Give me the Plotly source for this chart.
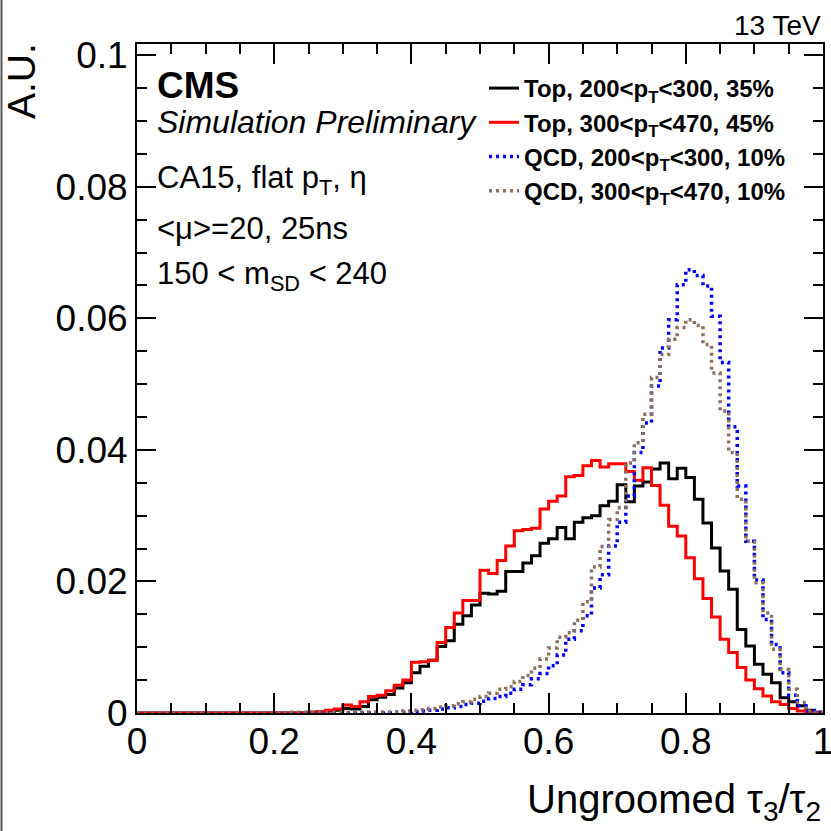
import numpy as np
import plotly.graph_objects as go

# ---------------- data (80 bins, 0..1) ----------------
top_200_300 = [0]*20 + [
    0.0001, 0.00015, 0.0003, 0.0004, 0.0007, 0.0006, 0.001, 0.002, 0.0024, 0.0028,
    0.0038, 0.0046, 0.0061, 0.0071, 0.008, 0.0101, 0.011, 0.0135, 0.0148, 0.0164,
    0.0182, 0.0181, 0.0185, 0.0215, 0.0215, 0.0228, 0.0239, 0.0258, 0.0265, 0.0282,
    0.0265, 0.029, 0.0297, 0.03, 0.0315, 0.0322, 0.0347, 0.0321, 0.0345, 0.0351,
    0.0371, 0.038, 0.0356, 0.0372, 0.0358, 0.0325, 0.0289, 0.0251, 0.0216, 0.0188,
    0.0127, 0.0102, 0.0074, 0.0059, 0.0046, 0.0023, 0.0017, 0.0011, 0.0004, 0.0001]

top_300_470 = [0]*20 + [
    0.0001, 0.0002, 0.0004, 0.0006, 0.0012, 0.001, 0.0017, 0.0025, 0.0027, 0.0034,
    0.0042, 0.005, 0.0077, 0.0078, 0.008, 0.0107, 0.013, 0.0152, 0.0171, 0.0171,
    0.0217, 0.0212, 0.0232, 0.0254, 0.0277, 0.0279, 0.0281, 0.031, 0.0322, 0.033,
    0.0359, 0.0361, 0.0376, 0.0384, 0.0374, 0.0379, 0.0379, 0.0367, 0.0354, 0.0373,
    0.0346, 0.0316, 0.0284, 0.0269, 0.0236, 0.0204, 0.0174, 0.0146, 0.0112, 0.0092,
    0.0069, 0.005, 0.0037, 0.0026, 0.0017, 0.0013, 0.0007, 0.0003, 0.0001, 0.00005]

qcd_200_300 = [0]*30 + [
    0.0001, 0.0001, 0.0002, 0.0003, 0.0004, 0.0006, 0.0008, 0.001, 0.0013, 0.0015,
    0.0018, 0.0022, 0.0025, 0.003, 0.0036, 0.0043, 0.0052, 0.006, 0.0072, 0.0088,
    0.0112, 0.0125, 0.0148, 0.019, 0.021, 0.0254, 0.029, 0.033, 0.0396, 0.0441,
    0.0497, 0.0555, 0.0598, 0.0651, 0.0674, 0.0665, 0.0649, 0.0603, 0.0533, 0.0435,
    0.0345, 0.0261, 0.0202, 0.0142, 0.0104, 0.0061, 0.0027, 0.0011, 0.0003, 0.0001]

qcd_300_470 = [0]*18 + [
    0.0001, 0.0001, 0.0001, 0.0001, 0.0001, 0.0001, 0.0001, 0.00015, 0.00015, 0.00015,
    0.00015, 0.00015, 0.00015, 0.0003, 0.0004, 0.0005, 0.0007, 0.0009, 0.0011, 0.0014,
    0.0017, 0.0021, 0.0025, 0.003, 0.0036, 0.004, 0.0048, 0.0057, 0.0068, 0.0082,
    0.0099, 0.0115, 0.0122, 0.0141, 0.0169, 0.0222, 0.0253, 0.0294, 0.0312, 0.038,
    0.0411, 0.0454, 0.051, 0.0545, 0.0568, 0.0586, 0.0598, 0.0589, 0.056, 0.0517,
    0.0459, 0.0396, 0.0325, 0.0261, 0.0198, 0.0152, 0.0097, 0.0066, 0.0036, 0.0016,
    0.0003, 0.0001]

series_names = [
    "Top, 200&lt;p<sub>T</sub>&lt;300, 35%",
    "Top, 300&lt;p<sub>T</sub>&lt;470, 45%",
    "QCD, 200&lt;p<sub>T</sub>&lt;300, 10%",
    "QCD, 300&lt;p<sub>T</sub>&lt;470, 10%",
]
series_values = [top_200_300, top_300_470, qcd_200_300, qcd_300_470]
series_colors = ["#000000", "#ff0000", "#0000ff", "#8c705f"]
series_dash = ["solid", "solid", "3px,4px", "3px,4px"]
series_width = [3, 3, 3.5, 3.5]

n_bins = 80
edges = np.linspace(0.0, 1.0, n_bins + 1)

FONT = "Liberation Sans, Arial, Helvetica, sans-serif"

fig = go.Figure()
for name, vals, col, dash, w in zip(series_names, series_values, series_colors, series_dash, series_width):
    vals = list(vals)
    assert len(vals) == n_bins, (name, len(vals))
    y = vals + [vals[-1]]
    fig.add_trace(go.Scatter(
        x=edges, y=y, mode="lines", name=name,
        line=dict(color=col, width=w, dash=dash, shape="hv"),
        hoverinfo="skip",
    ))

W = H = 831
L, R, T, B = 137, 8, 44, 118
pw, ph = W - L - R, H - T - B


def px_x(px):
    return (px - L) / pw


def px_y(py):
    return (H - B - py) / ph


axis_common = dict(
    showline=True, linecolor="black", linewidth=2, mirror="allticks",
    ticks="inside", tickcolor="black", tickwidth=1.5,
    showgrid=False, zeroline=False, ticklabeloverflow="allow", automargin=False,
    tickfont=dict(family=FONT, size=37, color="black"),
)

fig.update_xaxes(
    range=[0, 1], dtick=0.2, tick0=0, ticklen=20, ticklabelstandoff=-5,
    minor=dict(dtick=0.05, ticklen=10, ticks="inside", tickcolor="black", tickwidth=1.5, showgrid=False),
    **axis_common,
)
fig.update_yaxes(
    range=[0, 0.1017], dtick=0.02, tick0=0, ticklen=19,
    minor=dict(dtick=0.005, ticklen=10, ticks="inside", tickcolor="black", tickwidth=1.5, showgrid=False),
    **axis_common,
)

ann = []
ann.append(dict(text="A.U.", x=px_x(21), y=px_y(41), xref="paper", yref="paper",
                xanchor="center", yanchor="top", textangle=-90, showarrow=False,
                font=dict(family=FONT, size=39, color="black")))
ann.append(dict(text="Ungroomed τ<sub>3</sub>/τ<sub>2</sub>", x=1.0, y=px_y(802), xref="paper", yref="paper",
                xanchor="right", yanchor="middle", showarrow=False,
                font=dict(family=FONT, size=40, color="black")))
ann.append(dict(text="13 TeV", x=1.0, y=px_y(25), xref="paper", yref="paper",
                xanchor="right", yanchor="middle", showarrow=False,
                font=dict(family=FONT, size=28, color="black")))
ann.append(dict(text="<b>CMS</b>", x=px_x(155), y=px_y(85), xref="paper", yref="paper",
                xanchor="left", yanchor="middle", showarrow=False,
                font=dict(family=FONT, size=37, color="black")))
ann.append(dict(text="<i>Simulation Preliminary</i>", x=px_x(155), y=px_y(122), xref="paper", yref="paper",
                xanchor="left", yanchor="middle", showarrow=False,
                font=dict(family=FONT, size=32, color="black")))
ann.append(dict(text="CA15, flat p<sub>T</sub>, η", x=px_x(155), y=px_y(180), xref="paper", yref="paper",
                xanchor="left", yanchor="middle", showarrow=False,
                font=dict(family=FONT, size=31, color="black")))
ann.append(dict(text="&lt;μ&gt;=20, 25ns", x=px_x(155), y=px_y(228), xref="paper", yref="paper",
                xanchor="left", yanchor="middle", showarrow=False,
                font=dict(family=FONT, size=31, color="black")))
ann.append(dict(text="150 &lt; m<sub>SD</sub> &lt; 240", x=px_x(155), y=px_y(276), xref="paper", yref="paper",
                xanchor="left", yanchor="middle", showarrow=False,
                font=dict(family=FONT, size=31, color="black")))

shapes = [
    dict(type="line", xref="paper", yref="paper", x0=px_x(1.5), x1=px_x(1.5), y0=px_y(831), y1=px_y(0),
         line=dict(color="#555555", width=2)),
]

fig.update_layout(
    width=W, height=H,
    margin=dict(l=L, r=R, t=T, b=B, pad=0, autoexpand=False),
    paper_bgcolor="white", plot_bgcolor="white",
    showlegend=True,
    legend=dict(
        x=px_x(484), y=px_y(66), xanchor="left", yanchor="top",
        bgcolor="rgba(0,0,0,0)", borderwidth=0,
        font=dict(family=FONT, size=24, color="black", weight="bold"),
        tracegroupgap=0, itemwidth=30,
    ),
    annotations=ann,
    shapes=shapes,
)

fig.write_html("out.html")
